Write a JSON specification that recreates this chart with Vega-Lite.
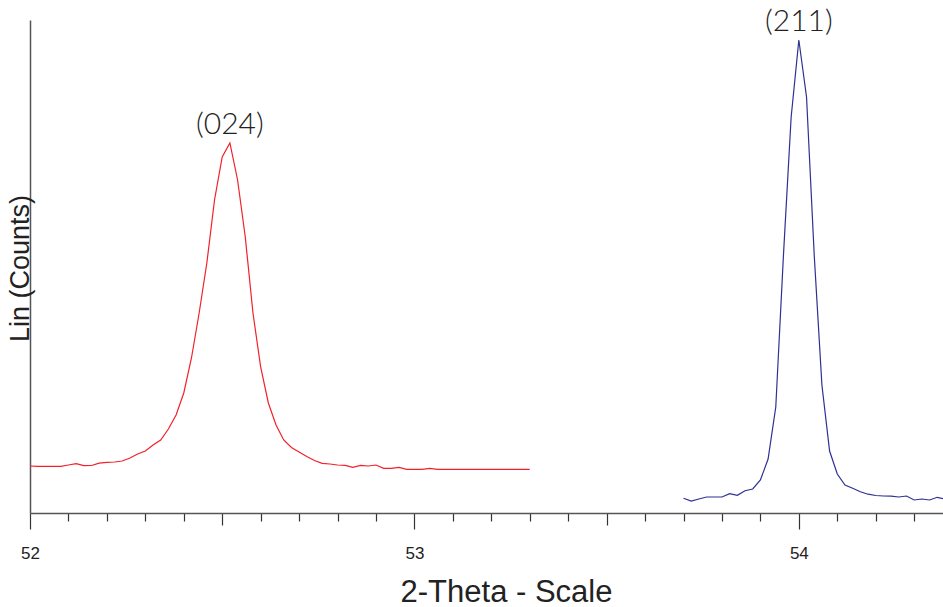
{
  "$schema": "https://vega.github.io/schema/vega-lite/v6.json",
  "width": 913,
  "height": 493,
  "autosize": {"type": "none"},
  "padding": {"left": 30, "top": 20, "right": 0, "bottom": 94},
  "background": "white",
  "config": {"view": {"stroke": null}},
  "datasets": {
    "scan": [
      {"series": "024", "theta": 52.00, "counts": 47},
      {"series": "024", "theta": 52.02, "counts": 46.7},
      {"series": "024", "theta": 52.04, "counts": 46.6},
      {"series": "024", "theta": 52.06, "counts": 46.6},
      {"series": "024", "theta": 52.08, "counts": 46.6},
      {"series": "024", "theta": 52.10, "counts": 48},
      {"series": "024", "theta": 52.12, "counts": 49.4},
      {"series": "024", "theta": 52.14, "counts": 47.3},
      {"series": "024", "theta": 52.16, "counts": 47.5},
      {"series": "024", "theta": 52.18, "counts": 49.8},
      {"series": "024", "theta": 52.20, "counts": 50.7},
      {"series": "024", "theta": 52.22, "counts": 51},
      {"series": "024", "theta": 52.24, "counts": 52},
      {"series": "024", "theta": 52.26, "counts": 55},
      {"series": "024", "theta": 52.28, "counts": 59},
      {"series": "024", "theta": 52.30, "counts": 62},
      {"series": "024", "theta": 52.32, "counts": 68},
      {"series": "024", "theta": 52.34, "counts": 73},
      {"series": "024", "theta": 52.36, "counts": 84},
      {"series": "024", "theta": 52.38, "counts": 98},
      {"series": "024", "theta": 52.40, "counts": 120},
      {"series": "024", "theta": 52.42, "counts": 155},
      {"series": "024", "theta": 52.44, "counts": 200},
      {"series": "024", "theta": 52.46, "counts": 250},
      {"series": "024", "theta": 52.48, "counts": 313},
      {"series": "024", "theta": 52.50, "counts": 356},
      {"series": "024", "theta": 52.52, "counts": 370},
      {"series": "024", "theta": 52.54, "counts": 333},
      {"series": "024", "theta": 52.56, "counts": 276},
      {"series": "024", "theta": 52.58, "counts": 200},
      {"series": "024", "theta": 52.60, "counts": 146},
      {"series": "024", "theta": 52.62, "counts": 110},
      {"series": "024", "theta": 52.64, "counts": 88},
      {"series": "024", "theta": 52.66, "counts": 73},
      {"series": "024", "theta": 52.68, "counts": 65.5},
      {"series": "024", "theta": 52.70, "counts": 61},
      {"series": "024", "theta": 52.72, "counts": 56.5},
      {"series": "024", "theta": 52.74, "counts": 52.5},
      {"series": "024", "theta": 52.76, "counts": 49.7},
      {"series": "024", "theta": 52.78, "counts": 49},
      {"series": "024", "theta": 52.80, "counts": 48},
      {"series": "024", "theta": 52.82, "counts": 47.7},
      {"series": "024", "theta": 52.84, "counts": 45.7},
      {"series": "024", "theta": 52.86, "counts": 47.7},
      {"series": "024", "theta": 52.88, "counts": 47},
      {"series": "024", "theta": 52.90, "counts": 48},
      {"series": "024", "theta": 52.92, "counts": 44.7},
      {"series": "024", "theta": 52.94, "counts": 44.7},
      {"series": "024", "theta": 52.96, "counts": 45.7},
      {"series": "024", "theta": 52.98, "counts": 43.7},
      {"series": "024", "theta": 53.00, "counts": 43.7},
      {"series": "024", "theta": 53.02, "counts": 43.7},
      {"series": "024", "theta": 53.04, "counts": 44.7},
      {"series": "024", "theta": 53.06, "counts": 43.7},
      {"series": "024", "theta": 53.08, "counts": 43.7},
      {"series": "024", "theta": 53.10, "counts": 43.7},
      {"series": "024", "theta": 53.12, "counts": 43.7},
      {"series": "024", "theta": 53.14, "counts": 43.7},
      {"series": "024", "theta": 53.16, "counts": 43.7},
      {"series": "024", "theta": 53.18, "counts": 43.7},
      {"series": "024", "theta": 53.20, "counts": 43.7},
      {"series": "024", "theta": 53.22, "counts": 43.7},
      {"series": "024", "theta": 53.24, "counts": 43.7},
      {"series": "024", "theta": 53.26, "counts": 43.7},
      {"series": "024", "theta": 53.28, "counts": 43.7},
      {"series": "024", "theta": 53.30, "counts": 43.7},
      {"series": "211", "theta": 53.70, "counts": 14.7},
      {"series": "211", "theta": 53.72, "counts": 12},
      {"series": "211", "theta": 53.74, "counts": 14},
      {"series": "211", "theta": 53.76, "counts": 16},
      {"series": "211", "theta": 53.78, "counts": 16},
      {"series": "211", "theta": 53.80, "counts": 16},
      {"series": "211", "theta": 53.82, "counts": 19.3},
      {"series": "211", "theta": 53.84, "counts": 17.7},
      {"series": "211", "theta": 53.86, "counts": 22.3},
      {"series": "211", "theta": 53.88, "counts": 24},
      {"series": "211", "theta": 53.90, "counts": 33},
      {"series": "211", "theta": 53.92, "counts": 54},
      {"series": "211", "theta": 53.94, "counts": 106},
      {"series": "211", "theta": 53.96, "counts": 258},
      {"series": "211", "theta": 53.98, "counts": 396},
      {"series": "211", "theta": 54.00, "counts": 473},
      {"series": "211", "theta": 54.02, "counts": 416},
      {"series": "211", "theta": 54.04, "counts": 258},
      {"series": "211", "theta": 54.06, "counts": 128},
      {"series": "211", "theta": 54.08, "counts": 62},
      {"series": "211", "theta": 54.10, "counts": 39},
      {"series": "211", "theta": 54.12, "counts": 28},
      {"series": "211", "theta": 54.14, "counts": 24.7},
      {"series": "211", "theta": 54.16, "counts": 21.3},
      {"series": "211", "theta": 54.18, "counts": 18.8},
      {"series": "211", "theta": 54.20, "counts": 17.5},
      {"series": "211", "theta": 54.22, "counts": 17},
      {"series": "211", "theta": 54.24, "counts": 16.8},
      {"series": "211", "theta": 54.26, "counts": 16},
      {"series": "211", "theta": 54.28, "counts": 17},
      {"series": "211", "theta": 54.30, "counts": 13},
      {"series": "211", "theta": 54.32, "counts": 14},
      {"series": "211", "theta": 54.34, "counts": 13},
      {"series": "211", "theta": 54.36, "counts": 15.7},
      {"series": "211", "theta": 54.38, "counts": 14}
    ],
    "peaks": [
      {"label": "(024)", "theta": 52.52, "counts": 370},
      {"label": "(211)", "theta": 54.00, "counts": 473}
    ]
  },
  "layer": [
    {
      "data": {"name": "scan"},
      "mark": {"type": "line", "strokeWidth": 1.2, "clip": true},
      "encoding": {
        "x": {
          "field": "theta",
          "type": "quantitative",
          "scale": {"domain": [52, 54.375], "nice": false, "zero": false},
          "axis": {
            "title": "2-Theta - Scale",
            "values": [52, 52.1, 52.2, 52.3, 52.4, 52.5, 52.6, 52.7, 52.8, 52.9, 53, 53.1, 53.2, 53.3, 53.4, 53.5, 53.6, 53.7, 53.8, 53.9, 54, 54.1, 54.2, 54.3],
            "tickCount": 200,
            "labelExpr": "abs(datum.value - round(datum.value)) < 0.01 ? format(datum.value, 'd') : ''",
            "tickSize": {"condition": [
              {"test": "abs(datum.value - round(datum.value)) < 0.01", "value": 16},
              {"test": "abs(datum.value * 2 - round(datum.value * 2)) < 0.01", "value": 12}
            ], "value": 8},
            "tickColor": "#333333",
            "tickWidth": 1.2,
            "domainColor": "#555555",
            "domainWidth": 1.5,
            "grid": false,
            "labelFont": "Liberation Sans",
            "labelFontSize": 17,
            "labelColor": "#222222",
            "labelBaseline": "alphabetic",
            "labelPadding": 29,
            "labelFlush": false,
            "labelOverlap": false,
            "titleFont": "Liberation Sans",
            "titleFontSize": 31,
            "titleFontWeight": "normal",
            "titleColor": "#222222",
            "titleBaseline": "alphabetic",
            "titleAlign": "center",
            "titleX": 476,
            "titleY": 88
          }
        },
        "y": {
          "field": "counts",
          "type": "quantitative",
          "scale": {"domain": [0, 493], "nice": false},
          "axis": {
            "title": "Lin (Counts)",
            "ticks": false,
            "labels": false,
            "grid": false,
            "domainColor": "#555555",
            "domainWidth": 1.5,
            "titleFont": "Liberation Sans",
            "titleFontSize": 27,
            "titleFontWeight": "normal",
            "titleColor": "#222222",
            "titleAngle": -90,
            "titleBaseline": "alphabetic",
            "titleAlign": "center",
            "titleX": -2,
            "titleY": 248
          }
        },
        "color": {
          "field": "series",
          "type": "nominal",
          "scale": {"domain": ["024", "211"], "range": ["#f2202a", "#2e3192"]},
          "legend": null
        },
        "detail": {"field": "series"}
      }
    },
    {
      "data": {"name": "peaks"},
      "mark": {"type": "text", "font": "Lato", "fontWeight": 300, "fontSize": 30, "color": "#222222", "baseline": "alphabetic", "align": "center", "dy": -9},
      "encoding": {
        "x": {"field": "theta", "type": "quantitative"},
        "y": {"field": "counts", "type": "quantitative"},
        "text": {"field": "label"}
      }
    }
  ]
}
